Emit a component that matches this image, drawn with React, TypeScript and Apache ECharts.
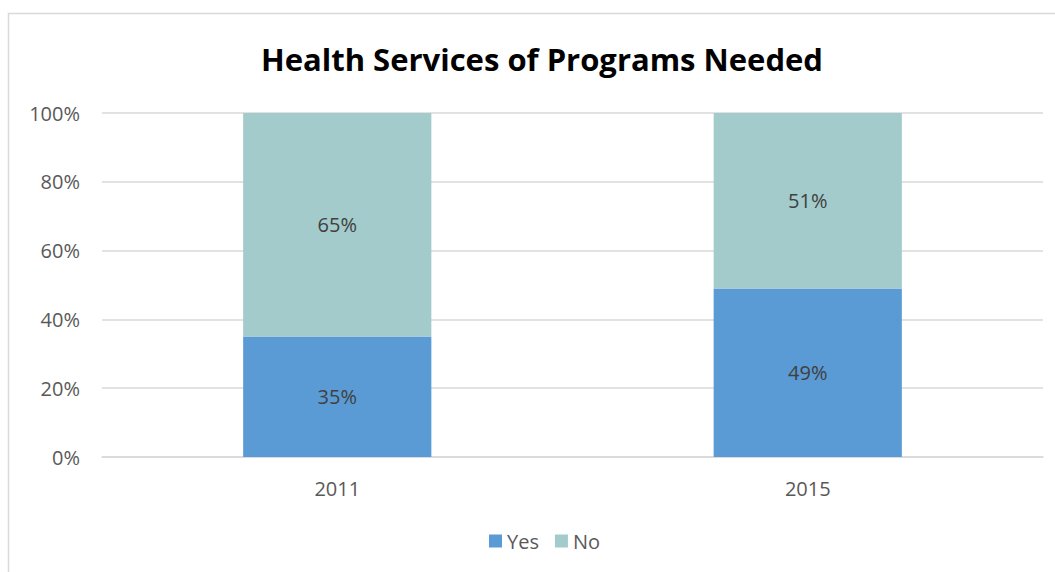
import React, { useEffect, useRef } from "react";
import * as echarts from "echarts";

const categories = ["2011", "2015"];
const yesValues = [35, 49];
const noValues = [65, 51];
const titleText = "Health Services of Programs Needed";

export default function App() {
  const ref = useRef<HTMLDivElement>(null);
  useEffect(() => {
    if (!ref.current) return;
    const chart = echarts.init(ref.current, null, { renderer: "svg" });
    const font = "'Open Sans', 'Liberation Sans', sans-serif";
    chart.setOption({
      animation: false,
      backgroundColor: "#ffffff",
      textStyle: { fontFamily: font },
      title: {
        text: titleText,
        left: 256,
        top: 38,
        textStyle: { fontSize: 31, fontWeight: "bold", color: "#000000", fontFamily: font },
      },
      graphic: [
        {
          type: "rect",
          shape: { x: 8.5, y: 13.5, width: 1100, height: 600 },
          style: { fill: "none", stroke: "#d9d9d9", lineWidth: 1.5 },
          silent: true,
        },
      ],
      legend: {
        bottom: 16,
        left: 484,
        itemWidth: 13,
        itemHeight: 13,
        itemGap: 16,
        icon: "rect",
        textStyle: { fontSize: 20, color: "#595959" },
        data: ["Yes", "No"],
      },
      grid: { left: 102, right: 12, top: 113, bottom: 115 },
      xAxis: {
        type: "category",
        data: categories,
        axisLine: { lineStyle: { color: "#d9d9d9", width: 1.5 } },
        axisTick: { show: false },
        axisLabel: { fontSize: 20, color: "#595959", margin: 21 },
      },
      yAxis: {
        type: "value",
        min: 0,
        max: 100,
        interval: 20,
        axisLine: { show: false },
        axisTick: { show: false },
        axisLabel: { formatter: "{value}%", fontSize: 20, color: "#595959", margin: 22 },
        splitLine: { lineStyle: { color: "#d9d9d9", width: 1.5 } },
      },
      series: [
        {
          name: "Yes",
          type: "bar",
          stack: "total",
          data: yesValues,
          barWidth: "40%",
          itemStyle: { color: "#5B9BD5" },
          label: {
            show: true,
            position: "inside",
            formatter: "{c}%",
            fontSize: 20,
            color: "#404040",
          },
        },
        {
          name: "No",
          type: "bar",
          stack: "total",
          data: noValues,
          barWidth: "40%",
          itemStyle: { color: "#A3CBCB" },
          label: {
            show: true,
            position: "inside",
            formatter: "{c}%",
            fontSize: 20,
            color: "#404040",
          },
        },
      ],
    });
    return () => chart.dispose();
  }, []);
  return (
    <div
      ref={ref}
      style={{ position: "absolute", left: 0, top: 0, width: 1055, height: 572 }}
    />
  );
}
